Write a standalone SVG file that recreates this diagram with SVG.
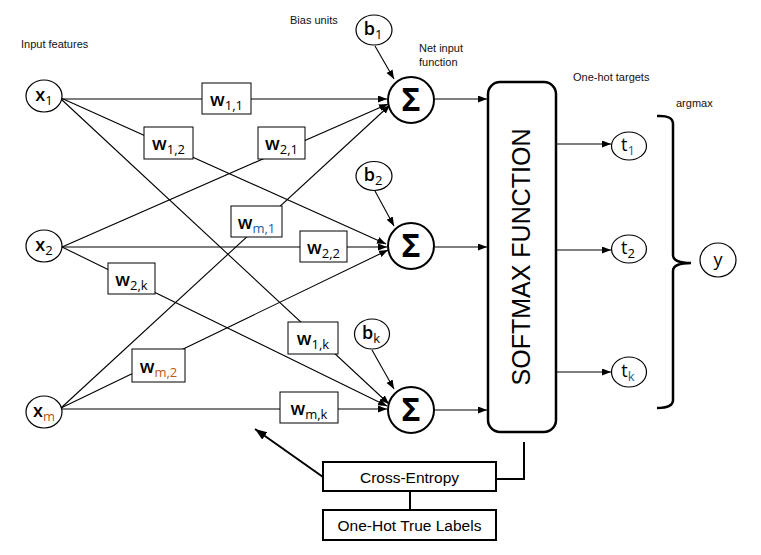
<svg xmlns="http://www.w3.org/2000/svg" width="761" height="555" viewBox="0 0 761 555">
<style>
.note{font-family:"Liberation Sans",Arial,sans-serif;font-size:11px;fill:#111}
.lbl{font-family:"Open Sans","Liberation Sans",sans-serif;font-size:18px;font-weight:600;fill:#000}
.sub{font-size:13px;font-weight:400}
.node{fill:#fff;stroke:#000;stroke-width:1.2}
.wbox{fill:#fff;stroke:#000;stroke-width:1}
.sig{fill:#fff;stroke:#000;stroke-width:2}
.sigt{font-family:"Open Sans","Liberation Sans",sans-serif;font-size:32px;font-weight:700;fill:#000}
.ln{fill:none;stroke:#000;stroke-width:1.1}
.thk{fill:none;stroke:#000;stroke-width:2}
.box2{fill:#fff;stroke:#000;stroke-width:2}
.bt{font-family:"Liberation Sans",Arial,sans-serif;font-size:15.5px;fill:#000}
.blue{fill:#1f5ba8}
.orange{fill:#c0560f}
</style>
<defs>
<marker id="ah" markerUnits="userSpaceOnUse" markerWidth="10" markerHeight="8" refX="9" refY="3.5" orient="auto">
<path d="M0,0 L9,3.5 L0,7 z" fill="#000"/>
</marker>
<marker id="ahb" markerUnits="userSpaceOnUse" markerWidth="14" markerHeight="10" refX="12" refY="4.5" orient="auto">
<path d="M0,0 L12,4.5 L0,9 z" fill="#000"/>
</marker>
</defs>
<rect width="761" height="555" fill="#fff"/>

<text class="note" x="21" y="48">Input features</text>
<text class="note" x="290" y="24">Bias units</text>
<text class="note" x="419" y="52">Net input</text>
<text class="note" x="419" y="66">function</text>
<text class="note" x="573" y="81">One-hot targets</text>
<text class="note" x="676" y="107">argmax</text>

<g id="connectors">
<path class="ln" marker-end="url(#ah)" d="M61 99 L387 99"/>
<path class="ln" marker-end="url(#ah)" d="M61 98 L386 244"/>
<path class="ln" marker-end="url(#ah)" d="M61 99 L389 404"/>
<path class="ln" marker-end="url(#ah)" d="M62 247 L388 104"/>
<path class="ln" marker-end="url(#ah)" d="M62 247 L387 247"/>
<path class="ln" marker-end="url(#ah)" d="M62 247 L387 406"/>
<path class="ln" marker-end="url(#ah)" d="M61 408 L390 105"/>
<path class="ln" marker-end="url(#ah)" d="M61 408 L388 250"/>
<path class="ln" marker-end="url(#ah)" d="M61 409 L387 409"/>
<path class="ln" marker-end="url(#ah)" d="M375 46 L394 79"/>
<path class="ln" marker-end="url(#ah)" d="M375 191 L394 226"/>
<path class="ln" marker-end="url(#ah)" d="M372 350 L394 389"/>
<path class="ln" marker-end="url(#ah)" d="M435 99 L487 99"/>
<path class="ln" marker-end="url(#ah)" d="M435 247 L487 247"/>
<path class="ln" marker-end="url(#ah)" d="M435 410 L487 410"/>
<path class="ln" marker-end="url(#ah)" d="M556 144 L611 144"/>
<path class="ln" marker-end="url(#ah)" d="M556 250 L611 250"/>
<path class="ln" marker-end="url(#ah)" d="M556 372 L611 372"/>
<path class="thk" d="M524 442 L524 479 L496 479"/>
<path class="thk" d="M410 491 L410 510"/>
<path class="thk" marker-end="url(#ahb)" d="M323 477 L255 429"/>
<path fill="none" stroke="#000" stroke-width="2.5" d="M657 116 Q673 115 673 124 L673 255 Q673 263 691 263 Q673 263 673 271 L673 400 Q673 408 657 408"/>
</g>

<g id="x1"><ellipse class="node" cx="44" cy="96" rx="18" ry="16"/><text class="lbl" x="44" y="101" text-anchor="middle">x<tspan class="sub" dy="4">1</tspan></text></g>
<g id="x2"><ellipse class="node" cx="44" cy="246" rx="18" ry="16"/><text class="lbl" x="44" y="251" text-anchor="middle">x<tspan class="sub" dy="4">2</tspan></text></g>
<g id="xm"><ellipse class="node" cx="44" cy="412" rx="18" ry="16"/><text class="lbl" x="44" y="417" text-anchor="middle">x<tspan class="sub orange" dy="4">m</tspan></text></g>

<g id="w11"><rect class="wbox" x="202" y="83" width="49" height="31"/><text class="lbl" x="226.5" y="106" text-anchor="middle">w<tspan class="sub" dy="4">1,1</tspan></text></g>
<g id="w12"><rect class="wbox" x="144" y="127" width="49" height="32"/><text class="lbl" x="168.5" y="150" text-anchor="middle">w<tspan class="sub" dy="4">1,2</tspan></text></g>
<g id="w21"><rect class="wbox" x="258" y="127" width="47" height="32"/><text class="lbl" x="281.5" y="150" text-anchor="middle">w<tspan class="sub" dy="4">2,1</tspan></text></g>
<g id="wm1"><rect class="wbox" x="231" y="206" width="51" height="31"/><text class="lbl" x="256.5" y="229" text-anchor="middle">w<tspan class="sub blue" dy="4">m,1</tspan></text></g>
<g id="w22"><rect class="wbox" x="300" y="231" width="47" height="31"/><text class="lbl" x="323.5" y="254" text-anchor="middle">w<tspan class="sub" dy="4">2,2</tspan></text></g>
<g id="w2k"><rect class="wbox" x="108" y="263" width="47" height="31"/><text class="lbl" x="131.5" y="286" text-anchor="middle">w<tspan class="sub" dy="4">2,k</tspan></text></g>
<g id="w1k"><rect class="wbox" x="288" y="322" width="50" height="32"/><text class="lbl" x="313" y="345" text-anchor="middle">w<tspan class="sub" dy="4">1,k</tspan></text></g>
<g id="wm2"><rect class="wbox" x="132" y="349" width="53" height="33"/><text class="lbl" x="158.5" y="373" text-anchor="middle">w<tspan class="sub orange" dy="4">m,2</tspan></text></g>
<g id="wmk"><rect class="wbox" x="280" y="392" width="58" height="31"/><text class="lbl" x="309" y="415" text-anchor="middle">w<tspan class="sub" dy="4">m,k</tspan></text></g>

<g id="b1"><ellipse class="node" cx="374" cy="30" rx="18" ry="15"/><text class="lbl" x="373" y="35" text-anchor="middle">b<tspan class="sub" dy="4">1</tspan></text></g>
<g id="b2"><ellipse class="node" cx="374" cy="176" rx="18" ry="14.5"/><text class="lbl" x="373" y="181" text-anchor="middle">b<tspan class="sub" dy="4">2</tspan></text></g>
<g id="bk"><ellipse class="node" cx="372" cy="334" rx="17.5" ry="15"/><text class="lbl" x="371" y="339" text-anchor="middle">b<tspan class="sub" dy="4">k</tspan></text></g>

<g id="sum1"><circle class="sig" cx="411" cy="100" r="23"/><text class="sigt" x="411" y="111" text-anchor="middle">Σ</text></g>
<g id="sum2"><circle class="sig" cx="411" cy="246" r="23"/><text class="sigt" x="411" y="257" text-anchor="middle">Σ</text></g>
<g id="sumk"><circle class="sig" cx="411" cy="410" r="23"/><text class="sigt" x="411" y="421" text-anchor="middle">Σ</text></g>

<g id="softmax"><rect x="488" y="82" width="68" height="350" rx="12" fill="#fff" stroke="#000" stroke-width="2.5"/><text class="bt" style="font-size:25px" transform="translate(530,257) rotate(-90)" text-anchor="middle">SOFTMAX FUNCTION</text></g>

<g id="t1"><ellipse class="node" cx="629" cy="146" rx="17.5" ry="14"/><text class="lbl" x="628" y="151" text-anchor="middle" style="font-weight:400">t<tspan class="sub blue" dy="4">1</tspan></text></g>
<g id="t2"><ellipse class="node" cx="629" cy="249" rx="17.5" ry="14"/><text class="lbl" x="628" y="254" text-anchor="middle" style="font-weight:400">t<tspan class="sub" dy="4">2</tspan></text></g>
<g id="tk"><ellipse class="node" cx="629" cy="372" rx="17.5" ry="15"/><text class="lbl" x="628" y="377" text-anchor="middle" style="font-weight:400">t<tspan class="sub blue" dy="4">k</tspan></text></g>

<g id="y"><ellipse class="node" cx="718" cy="260" rx="18" ry="17"/><text class="lbl" x="718" y="266" text-anchor="middle" style="font-weight:400">y</text></g>

<g id="crossentropy"><rect class="box2" x="323" y="462" width="173" height="29"/><text class="bt" x="409.5" y="483" text-anchor="middle">Cross-Entropy</text></g>
<g id="truelabels"><rect class="box2" x="323" y="510" width="173" height="30"/><text class="bt" x="409.5" y="531" text-anchor="middle">One-Hot True Labels</text></g>
</svg>
